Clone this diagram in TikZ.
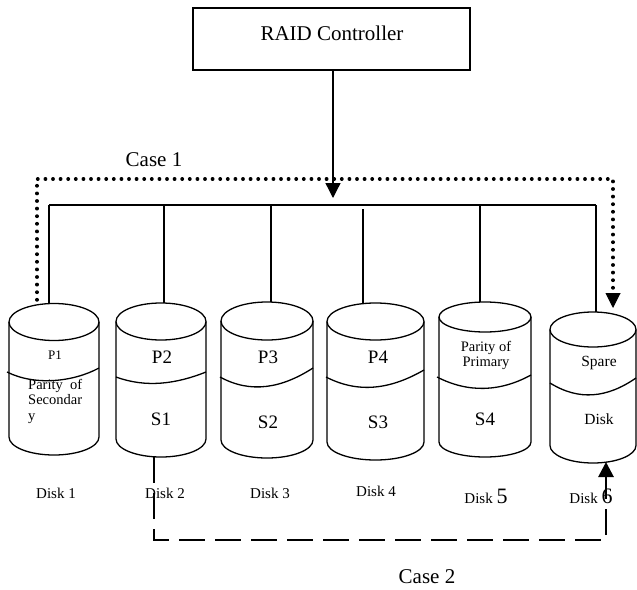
\documentclass[tikz,border=0pt]{standalone}
\usepackage{fontspec}
\setmainfont{Liberation Serif}
\usetikzlibrary{arrows.meta}
\newcommand\diskcyl[6]{% cx, rx, ytop, rytop, ybot, rybot
  \draw[diskline] (#1,#3) ellipse [x radius=#2pt, y radius=#4pt];
  \draw[diskline] ({#1-#2},#3) -- ({#1-#2},#5) arc[start angle=180, end angle=360, x radius=#2pt, y radius=#6pt] -- ({#1+#2},#3);
}
\tikzset{
  diskline/.style={line width=1.3pt},
  busline/.style={line width=1.1pt},
  bigtxt/.style={font=\fontsize{21}{24}\selectfont, inner sep=0pt},
  ptxt/.style={font=\fontsize{19}{22}\selectfont, inner sep=0pt},
  smalltxt/.style={font=\fontsize{14.5}{15}\selectfont, inner sep=0pt},
  labtxt/.style={font=\fontsize{15}{18}\selectfont, inner sep=0pt},
  tip/.style={-{Triangle[length=15pt,width=15pt]}},
  dottedline/.style={line width=3.4pt, line cap=round, dash pattern=on 0.4pt off 7.2pt},
  dashedline/.style={line width=2.8pt, dash pattern=on 26pt off 10pt}
}
\begin{document}
\begin{tikzpicture}[x=1pt,y=-1pt]
\useasboundingbox (0,0) rectangle (637,589);
% controller
\node[draw, line width=1.3pt, minimum width=277pt, minimum height=62pt, inner sep=0pt] (ctrl) at (331.5,39) {};
\node[bigtxt] (ctrltxt) at (332,33) {RAID Controller};
% bus
\coordinate (busL) at (49,205);
\coordinate (busR) at (596,205);
\coordinate (busin) at (333,198);
\draw[diskline, tip] (ctrl.south -| busin) -- (busin);
\draw[busline] (busL) -- (busR);
% disks
\diskcyl{54}{45}{322}{18.5}{437}{18}
\diskcyl{161}{45}{321.5}{18.5}{439}{18}
\diskcyl{267}{46}{321}{19}{440}{18}
\diskcyl{375.5}{48.5}{321.5}{18.5}{442}{18}
\diskcyl{485}{46}{317}{15}{442}{15}
\diskcyl{593}{43}{329.5}{17.5}{445.5}{17.5}
% middle separators
\draw[diskline] (7,372) .. controls (35,386) and (73,382) .. (99,368);
\draw[diskline] (116,377) .. controls (146,388) and (176,384) .. (206,372);
\draw[diskline] (220,377) .. controls (251,394) and (282,388) .. (313,368);
\draw[diskline] (326,377) .. controls (359,394) and (391,389) .. (424,370);
\draw[diskline] (437,377) .. controls (468,393) and (500,392) .. (531,375);
\draw[diskline] (550,383) .. controls (579,401) and (607,398) .. (636,378);
% drops
\coordinate (d1t) at (49,303.6);
\coordinate (d2t) at (164,303.2);
\coordinate (d3t) at (271,302.2);
\coordinate (d4s) at (363,209);
\coordinate (d4t) at (363,303.3);
\coordinate (d5t) at (480,302.2);
\coordinate (d6t) at (596,312.1);
\draw[busline] (busL) -- (d1t);
\draw[busline] (busL -| d2t) -- (d2t);
\draw[busline] (busL -| d3t) -- (d3t);
\draw[busline] (d4s) -- (d4t);
\draw[busline] (busL -| d5t) -- (d5t);
\draw[busline] (busR) -- (d6t);
% case 1 dotted
\coordinate (c1s) at (37,300);
\coordinate (c1a) at (37,179);
\coordinate (c1b) at (613,179);
\coordinate (c1e) at (613,308);
\draw[dottedline] (c1s) -- (c1a) -- (c1b) -- ([yshift=15pt]c1e);
\draw[line width=1pt, -{Triangle[length=15pt,width=15pt]}] ([yshift=15pt]c1e) -- (c1e);
\node[bigtxt] (case1) at (154,160) {Case 1};
% case 2 dashed
\coordinate (d2b) at (154,457);
\coordinate (c2a) at (154,540);
\coordinate (c2b) at (606,540);
\coordinate (d6b) at (606,462);
\draw[dashedline] (d2b) -- (c2a) -- (c2b) -- ([yshift=-14pt]d6b);
\draw[line width=2.8pt, tip] ([yshift=-16pt]d6b) -- (d6b);
\node[bigtxt] (case2) at (427,577) {Case 2};
% disk texts
\node[font=\fontsize{13}{15}\selectfont, inner sep=0pt] (p1) at (55,355) {P1};
\node[smalltxt, align=left, anchor=north west, font=\fontsize{14.5}{15.5}\selectfont] (pos) at (28,379) {Parity\ \ of\\Secondar\\y};
\node[ptxt] (p2) at (162,357) {P2};
\node[ptxt] (s1) at (161,419) {S1};
\node[ptxt] (p3) at (268,357) {P3};
\node[ptxt] (s2) at (268,422) {S2};
\node[ptxt] (p4) at (378,357) {P4};
\node[ptxt] (s3) at (378,422) {S3};
\node[smalltxt, align=center] (pop) at (486,355) {Parity of\\Primary};
\node[ptxt] (s4) at (485,419) {S4};
\node[font=\fontsize{15.5}{18}\selectfont, inner sep=0pt] (spare) at (599,363) {Spare};
\node[font=\fontsize{15.5}{18}\selectfont, inner sep=0pt] (sdisk) at (599,419) {Disk};
% disk labels
\node[labtxt] (l1) at (56,493) {Disk 1};
\node[labtxt] (l2) at (165,493) {Disk 2};
\node[labtxt] (l3) at (270,493) {Disk 3};
\node[labtxt] (l4) at (376,491) {Disk 4};
\node[labtxt] (l5) at (486,496) {Disk {\fontsize{22}{24}\selectfont 5}};
\node[labtxt] (l6) at (591,496) {Disk {\fontsize{22}{24}\selectfont 6}};
\end{tikzpicture}
\end{document}
